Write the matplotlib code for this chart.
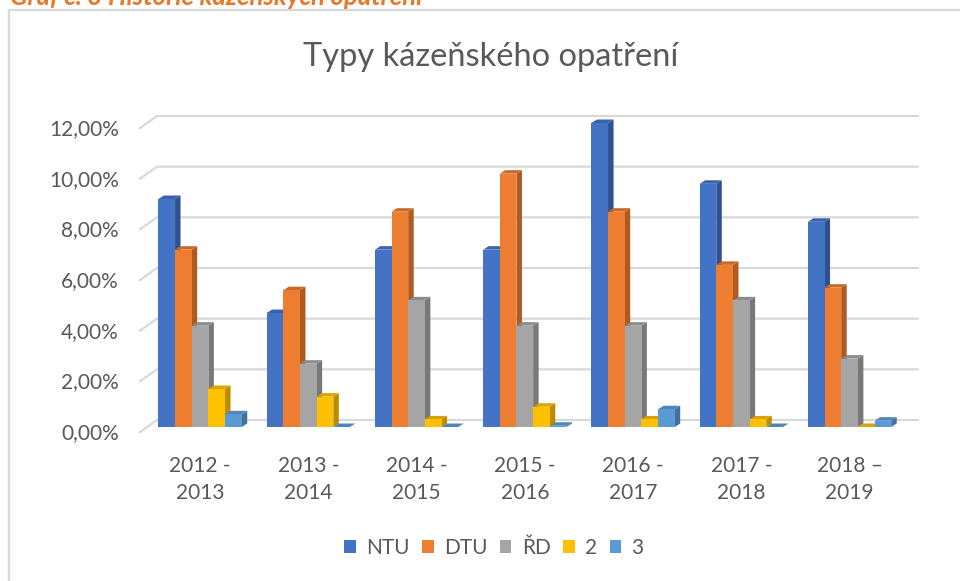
import matplotlib
matplotlib.use("Agg")
import matplotlib.pyplot as plt
from matplotlib.patches import Polygon, Rectangle, Patch
from matplotlib.lines import Line2D

plt.rcParams['font.family'] = ['Lato', 'DejaVu Sans']

# ---- data ----
categories = ["2012 -\n2013", "2013 -\n2014", "2014 -\n2015", "2015 -\n2016",
              "2016 -\n2017", "2017 -\n2018", "2018 –\n2019"]
series_names = ["NTU", "DTU", "ŘD", "2", "3"]
ntu = [9.0, 4.5, 7.0, 7.0, 12.0, 9.6, 8.1]
dtu = [7.0, 5.4, 8.5, 10.0, 8.5, 6.4, 5.5]
rd = [4.0, 2.5, 5.0, 4.0, 4.0, 5.0, 2.7]
s2 = [1.5, 1.2, 0.3, 0.8, 0.3, 0.3, 0.0]
s3 = [0.5, 0.0, 0.0, 0.05, 0.7, 0.0, 0.25]
y_ticks = [0, 2, 4, 6, 8, 10, 12]
y_tick_labels = ["0,00%", "2,00%", "4,00%", "6,00%", "8,00%", "10,00%", "12,00%"]
title = "Typy kázeňského opatření"
caption = "Graf č. 3 Historie kázeňských opatření"

series = [ntu, dtu, rd, s2, s3]
front_colors = ["#4472C4", "#ED7D31", "#A5A5A5", "#FFC000", "#5B9BD5"]
side_colors = ["#2F528F", "#AE5A21", "#787878", "#BC8C00", "#41719C"]
top_colors = ["#3A63AE", "#C96A2A", "#8C8C8C", "#D9A400", "#4E86BA"]
text_color = "#595959"
grid_color = "#D9D9D9"

W, H = 960, 581
fig = plt.figure(figsize=(W / 100, H / 100), dpi=100)
left_px, right_px, base_px, top_px = 147, 908, 427, 123
ax = fig.add_axes([left_px / W, (H - base_px) / H, (right_px - left_px) / W, (base_px - top_px) / H])
x0, x1 = -0.49, 6.54
ax.set_xlim(x0, x1)
ax.set_ylim(0, 12)
for s in ax.spines.values():
    s.set_visible(False)
ax.set_yticks([])

# pixel -> data unit conversions (for the pseudo-3D depth)
px_x = (x1 - x0) / (right_px - left_px)
px_y = 12 / (base_px - top_px)

# gridlines on back wall with slanted left part
for v in y_ticks:
    xs = [x0 - 7 * px_x, x0 + 10 * px_x, x1 + 10 * px_x]
    ys = [v - 5 * px_y, v + 7 * px_y, v + 7 * px_y]
    ax.add_line(Line2D(xs, ys, color=grid_color, lw=1.6, clip_on=False, zorder=0))

# y tick labels (front plane)
for v, lab in zip(y_ticks, y_tick_labels):
    ax.text(x0 - 28 * px_x, v - 6 * px_y, lab, ha='right', va='center',
            fontsize=15, color=text_color, clip_on=False)

# bars
n = len(series)
w = 0.154
dx, dy = 5.5 * px_x, 3.5 * px_y
z = 2
for gi in range(len(categories)):
    for si in range(n):
        v = series[si][gi]
        x = gi + (si - n / 2) * w
        # side face
        ax.add_patch(Polygon([(x + w, 0), (x + w, v), (x + w + dx, v + dy), (x + w + dx, dy)],
                             closed=True, fc=side_colors[si], ec='none', zorder=z, clip_on=False))
        # top face
        ax.add_patch(Polygon([(x, v), (x + w, v), (x + w + dx, v + dy), (x + dx, v + dy)],
                             closed=True, fc=top_colors[si], ec='none', zorder=z, clip_on=False))
        z += 1
        # front face
        ax.bar(x, v, width=w, align='edge', color=front_colors[si], zorder=z, clip_on=False)
        z += 1

ax.set_xticks(range(len(categories)))
ax.set_xticklabels(categories, fontsize=15, color=text_color, linespacing=1.4)
ax.tick_params(axis='x', length=0, pad=21)

# title
fig.text(491 / W, 1 - 57 / H, title, ha='center', va='center', fontsize=23.5, color=text_color)

# legend
handles = [Patch(facecolor=c, edgecolor='none') for c in front_colors]
fig.legend(handles, series_names, loc='center', bbox_to_anchor=(494 / W, 1 - 548 / H),
           ncol=5, frameon=False, fontsize=15, labelcolor=text_color,
           handlelength=0.55, handleheight=0.55, handletextpad=0.5, columnspacing=0.6)

# frame and caption
fig.add_artist(Rectangle((9 / W, -0.2), 1.2, (H - 10) / H + 0.2, transform=fig.transFigure,
                         fill=False, ec=grid_color, lw=1.6, clip_on=False))
fig.text(10 / W, 1 - 5 / H, caption, ha='left', va='baseline', fontsize=18.5,
         fontweight='bold', fontstyle='italic', color='#E9772A')

fig.savefig("out.png", dpi=100)
